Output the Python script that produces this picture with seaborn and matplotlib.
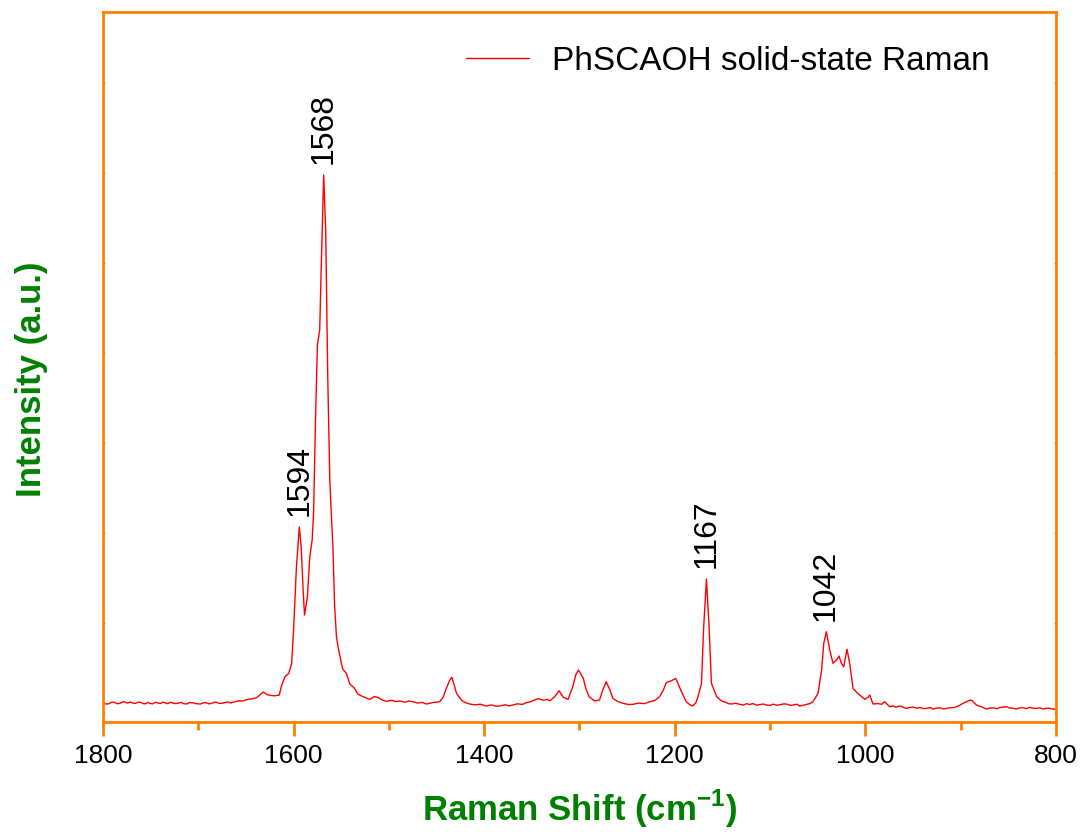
import numpy as np
import pandas as pd
import matplotlib
matplotlib.use("Agg")
import matplotlib.pyplot as plt
from matplotlib.ticker import MultipleLocator
import seaborn as sns

# ---- data (Raman shift in cm^-1, intensity in arbitrary units) ----
raman_shift = [
    1800, 1797, 1794, 1791, 1788, 1785, 1782, 1779, 1777, 1774, 1772, 1769, 1766, 1763,
    1760, 1757, 1755, 1753, 1751, 1748, 1745, 1742, 1740, 1737, 1735, 1732, 1730, 1727,
    1724, 1721, 1718, 1715, 1712, 1709, 1706, 1702, 1698, 1695, 1692, 1689, 1686, 1683,
    1681, 1678, 1675, 1672, 1669, 1666, 1664, 1660, 1657, 1654, 1651, 1648, 1646, 1642,
    1639, 1636, 1632, 1628, 1625, 1620, 1615, 1613, 1609, 1605, 1602, 1600, 1597, 1594,
    1592, 1590, 1588.5, 1585.5, 1583, 1580.5, 1579, 1577, 1575, 1572.6, 1570.5, 1568.4,
    1566.3, 1564.2, 1562, 1560.3, 1558.7, 1557, 1555, 1552.7, 1548.5, 1544.6, 1541, 1536,
    1532.7, 1527, 1520, 1515, 1511, 1507, 1502.6, 1497, 1493, 1488.6, 1483, 1479, 1475,
    1470, 1465, 1460.6, 1455, 1450, 1446.6, 1443, 1439.7, 1436, 1434, 1431.5, 1429, 1424,
    1420, 1415, 1410, 1404, 1398, 1392, 1388, 1384, 1378, 1374, 1370, 1365, 1360, 1356,
    1352, 1349, 1343.5, 1338, 1334, 1331, 1326, 1321.5, 1317, 1312, 1307, 1304, 1301,
    1296, 1293.5, 1290, 1284, 1279, 1275.6, 1272, 1268, 1265, 1260, 1254, 1249, 1244,
    1238, 1232, 1226, 1221, 1216, 1212, 1209, 1206, 1203.6, 1201, 1199, 1196, 1193, 1188,
    1184.5, 1181.5, 1178, 1175.7, 1172, 1169.7, 1166.8, 1164, 1161.6, 1156, 1151, 1146,
    1143, 1140, 1136, 1132, 1128, 1125, 1121, 1118, 1114, 1111, 1107, 1104, 1100, 1097,
    1093, 1090, 1086, 1083, 1079, 1076, 1072, 1069, 1065, 1062, 1058, 1055,
    1049.7, 1046, 1043.7, 1041, 1037.4, 1034, 1030.4, 1027.7, 1025.2, 1022.8, 1019.3,
    1016.5, 1013, 1009, 1006, 1000.7, 997, 995.5, 992, 987, 983, 980, 974.5, 971, 968,
    965, 962, 960, 957, 953, 950, 946, 943, 939, 936, 932, 929, 925, 922, 918, 915, 911,
    908, 905, 902, 897.6, 892, 888.8, 883.5, 878, 873, 869, 866, 862, 859, 855, 852, 849,
    847, 844, 841.6, 838, 835, 831, 827.6, 824, 820, 817, 813.7, 810, 807, 803, 800,
]
intensity = [
    19.3, 18.0, 18.2, 19.8, 19.6, 18.3, 18.7, 20.2, 19.9, 18.9, 20.0, 19.2, 18.6, 19.9,
    19.5, 18.2, 18.4, 19.6, 18.7, 18.1, 19.8, 19.0, 18.5, 19.9, 19.3, 18.3, 19.7, 19.0,
    18.4, 18.9, 19.6, 18.2, 18.1, 19.5, 19.2, 18.3, 18.0, 19.1, 19.4, 18.2, 18.6, 19.9,
    19.7, 18.6, 18.8, 19.4, 20.1, 19.0, 19.7, 20.6, 21.3, 20.9, 21.8, 22.6, 23.0, 23.4,
    24.3, 26.5, 30.0, 27.5, 26.7, 26.2, 27.0, 35.3, 45.3, 48.7, 58.7, 92, 155, 195,
    175, 132, 107, 125, 165, 182, 209, 302, 377, 392, 472, 547,
    492, 348, 242, 206, 175, 117, 85, 72, 53, 48.7, 38, 33.7,
    28, 25.3, 22.7, 25.5, 24.3, 22.0, 20.7, 21.8, 20.4, 21, 19.8, 21.0, 20.3,
    19.0, 19.6, 18, 19.2, 19.8, 20.3, 25, 33.7, 42, 44.7, 37, 28.7, 22,
    19.5, 18, 17.2, 17.8, 16, 17.1, 15.8, 16, 17.2, 16.1, 17, 18.2, 17.6, 19.3,
    20.1, 21.3, 23.3, 21.8, 22.5, 21.3, 25.3, 31.3, 24.7, 22.7, 35.3, 47, 52,
    43.7, 34, 25.3, 21, 22, 32, 40.3, 32, 23.7, 20.5, 18.7, 17.5, 17.7,
    18.9, 18.4, 20.3, 21.5, 25.3, 32, 39.3, 40.5, 41.3, 42.5, 43.7, 37, 30.3, 20.3,
    17.5, 16, 19, 25.3, 38.7, 95, 143, 95, 38.7, 25.3, 21.2, 19.3,
    18.2, 18.1, 18.8, 17.7, 16.9, 18.3, 17.5, 18.5, 16.8, 17.4, 18.0, 17, 16.6, 17.9,
    16.8, 17.2, 18.1, 18, 16.7, 16.9, 17.8, 16, 16.9, 17.5, 18.6, 20.3,
    28.7, 52, 78.7, 90.3, 72, 58.7, 62, 66, 58.7, 55.3, 72.7,
    58.7, 33.7, 29.5, 27, 22.7, 25, 27, 18, 18.5, 17.7, 20.3, 15.3, 16.1, 14.8,
    15.9, 15.6, 14.4, 13.7, 14.6, 14.9, 13.8, 14.5, 13.4, 13.6, 14.5, 13, 13.9, 14.2,
    13.1, 13.5, 14.4, 14.3, 15.1, 16.2, 18.7, 21.2, 22, 17, 15.1, 13, 14.0, 14.2, 13.3,
    14.5, 14.9, 15.3, 14.0, 14.1, 13.5, 13, 14.2, 14.3, 13.4, 14.7, 13.8, 13.6, 14.2,
    13, 13.7, 13.8, 12.9, 12.7,
]
series_name = "PhSCAOH solid-state Raman"
peak_positions = [1594, 1568, 1167, 1042]
peak_labels = ["1594", "1568", "1167", "1042"]
x_ticks = [1800, 1600, 1400, 1200, 1000, 800]

# ---- styling ----
sns.set_style("white")
plt.rcParams["font.family"] = ["Liberation Sans", "DejaVu Sans"]
plt.rcParams["mathtext.fontset"] = "custom"
plt.rcParams["mathtext.rm"] = "Liberation Sans"
plt.rcParams["mathtext.bf"] = "Liberation Sans:bold"
plt.rcParams["text.color"] = "black"

ORANGE = "#FF8000"
GREEN = "#008000"

df = pd.DataFrame({"shift": raman_shift, "intensity": intensity})

fig = plt.figure(figsize=(10.85, 8.38), dpi=100)
ax = fig.add_axes([0.0949, 0.1384, 0.8784, 0.8473])

sns.lineplot(data=df, x="shift", y="intensity", ax=ax, color="red",
             linewidth=1.0, label=series_name, sort=False, estimator=None)

ax.set_xlim(1800, 800)
ax.set_ylim(0, 710)
ax.set_xticks(x_ticks)
ax.xaxis.set_minor_locator(MultipleLocator(100))
ax.set_yticks(np.arange(9, 710, 90))
ax.set_yticklabels([])

for side in ["left", "right", "top", "bottom"]:
    ax.spines[side].set_visible(True)
    ax.spines[side].set_color(ORANGE)
    ax.spines[side].set_linewidth(2.0)

ax.tick_params(axis="x", which="major", bottom=True, top=False, direction="out",
               length=10, width=2, color=ORANGE, labelsize=19, pad=6, labelcolor="black")
ax.tick_params(axis="x", which="minor", bottom=True, top=False, direction="out",
               length=6, width=2, color=ORANGE)
ax.tick_params(axis="y", which="major", left=True, right=True, direction="in",
               length=1.5, width=1, color=ORANGE, labelleft=False)

ax.set_xlabel("Raman Shift (cm$^{\\mathbf{-1}}$)", fontsize=25, fontweight="bold",
              color=GREEN, labelpad=14)
ax.set_ylabel("Intensity (a.u.)", fontsize=25, fontweight="bold", color=GREEN)
ax.yaxis.set_label_coords(-0.058, 0.483)

# peak annotations
for pos, lab in zip(peak_positions, peak_labels):
    near = df[(df["shift"] > pos - 4) & (df["shift"] < pos + 4)]
    top = near["intensity"].max()
    ax.annotate(lab, xy=(pos, top), xytext=(0, 8), textcoords="offset points",
                rotation=90, ha="center", va="bottom", fontsize=23, color="black")

leg = ax.legend(loc="upper right", frameon=False, fontsize=24, handlelength=1.9,
                handletextpad=0.7, bbox_to_anchor=(0.962, 0.995))
for t in leg.get_texts():
    t.set_color("black")

fig.savefig("out.png", dpi=100)
